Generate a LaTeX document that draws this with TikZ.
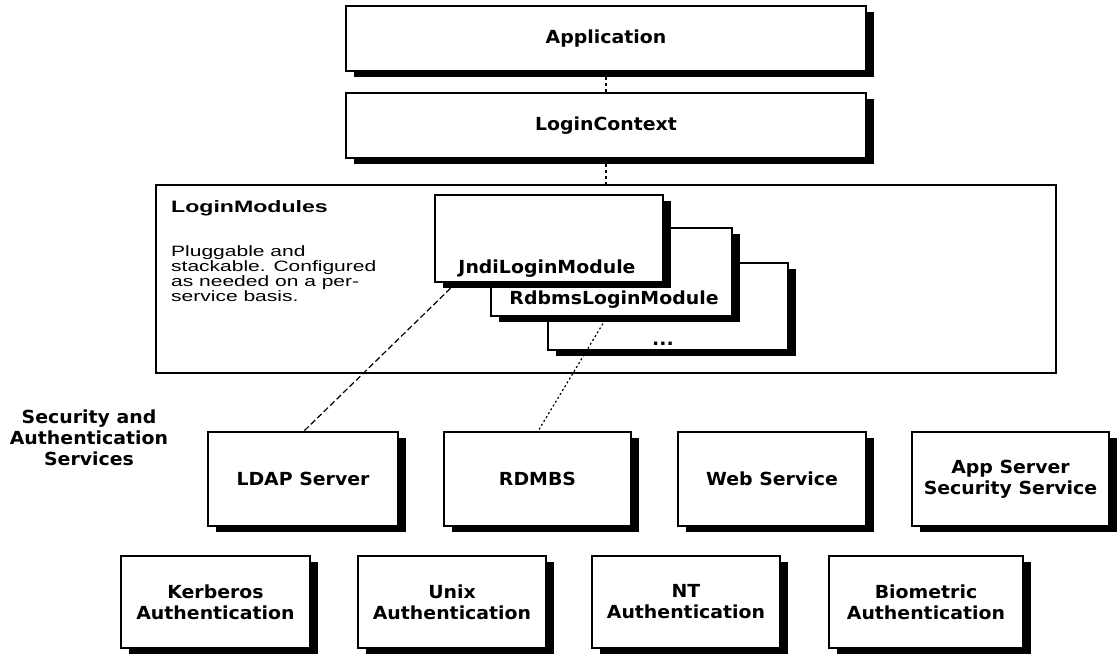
\documentclass[tikz,border=0pt]{standalone}
\usepackage{fontspec}
\newfontfamily\lblfont[FakeStretch=1.05]{DejaVu Sans}
\newfontfamily\descfont[FakeStretch=1.4]{Liberation Sans}
\usetikzlibrary{shadows}
\tikzset{
  wh/.style 2 args={minimum width=#1pt, minimum height=#2pt},
  plainbox/.style={draw=black, line width=1.3pt, fill=white, inner sep=0pt, outer sep=0pt, anchor=north west},
  box/.style={plainbox, general shadow={fill=black, shadow xshift=8pt, shadow yshift=-6pt}},
  lbl/.style={font=\lblfont\bfseries\fontsize{18}{21}\selectfont, align=center, inner sep=0pt},
  link/.style={line width=1.2pt},
  dotlink/.style={link, dash pattern=on 3pt off 3pt},
}
\begin{document}
\begin{tikzpicture}[x=1pt, y=-1pt]
\useasboundingbox (0,0) rectangle (1119,654);

% framework layers
\node[box, lbl, wh={520}{65}] (app) at (346,6) {Application};
\node[box, lbl, wh={520}{65}] (ctx) at (346,93) {LoginContext};

% login modules container
\node[plainbox, wh={900}{188}] (mods) at (156,185) {};
\node[inner sep=0pt, anchor=base west, font=\descfont\bfseries\fontsize{16.5}{18}\selectfont] (modsT) at (171,212.3) {LoginModules};
\node[inner sep=0pt, anchor=north west, align=left, font=\descfont\fontsize{15}{15}\selectfont] (modsD) at (171,245)
  {Pluggable and\\stackable. Configured\\as needed on a per-\\service basis.};

% stacked modules, back to front
\node[box, wh={240}{87}] (more) at (548,263) {};
\node[lbl, anchor=base] (moreT) at (663,345.7) {...};
\node[box, wh={241}{88}] (rdbm) at (491,228) {};
\node[lbl, anchor=base] (rdbmT) at (614,304) {RdbmsLoginModule};
\node[box, wh={228}{87}] (jndi) at (435,195) {};
\node[lbl, anchor=base] (jndiT) at (547,273.3) {JndiLoginModule};

% services
\node[lbl] (svcT) at (89,438) {Security and\\Authentication\\Services};
\node[box, lbl, wh={190}{94}] (ldap) at (208,432) {LDAP Server};
\node[box, lbl, wh={187}{94}] (rdmbs) at (444,432) {RDMBS};
\node[box, lbl, wh={188}{94}] (web) at (678,432) {Web Service};
\node[box, lbl, wh={197}{94}] (appsrv) at (912,432) {App Server\\Security Service};

\node[box, lbl, wh={189}{92}] (kerb) at (121,556) {Kerberos\\Authentication};
\node[box, lbl, wh={188}{92}] (unix) at (358,556) {Unix\\Authentication};
\node[box, lbl, wh={188}{92}] (nt) at (592,556) {NT\\Authentication};
\node[box, lbl, wh={194}{92}] (bio) at (829,556) {Biometric\\Authentication};

% connectors
\draw[dotlink] (app.south) -- (ctx.north);
\draw[dotlink] (ctx.south) -- (mods.north);
\draw[link, dash pattern=on 6pt off 3pt] ([xshift=22pt]jndi.south west) -- (ldap.north);
\draw[link, dash pattern=on 2pt off 2.5pt] ([xshift=-4pt]rdbm.south) -- (rdmbs.north);
\end{tikzpicture}
\end{document}
